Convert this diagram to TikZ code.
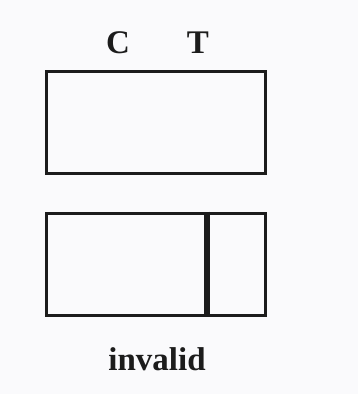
\documentclass[tikz,border=0pt]{standalone}
\usepackage{fontspec}
\setmainfont{Liberation Serif}
\usetikzlibrary{positioning}
\definecolor{paper}{RGB}{250,250,252}
\definecolor{ink}{RGB}{28,28,28}
\tikzset{
    stripbox/.style={draw=ink,line width=3pt,minimum width=219pt,minimum height=102pt,inner sep=0pt},
    lbl/.style={text=ink,font=\bfseries\fontsize{33}{33}\selectfont,inner sep=0pt}
}

\begin{document}
\begin{tikzpicture}[x=1pt,y=-1pt]
        \fill[paper] (0,0) rectangle (358,394);
        \useasboundingbox (0,0) rectangle (358,394);
        \node[stripbox] (top) at (156,122.5) {};
        \node[stripbox] (bottom) at (156,264) {};
        \node[lbl,anchor=base] (c) at (118,53) {C};
        \node[lbl,anchor=base] (t) at (198,53) {T};
        % test line of the invalid strip
        \draw[ink,line width=6pt] ([xshift=51pt]bottom.north) -- ([xshift=51pt]bottom.south);
        \node[lbl,anchor=base] (res) at (157,370) {invalid};
    \end{tikzpicture}
\end{document}
